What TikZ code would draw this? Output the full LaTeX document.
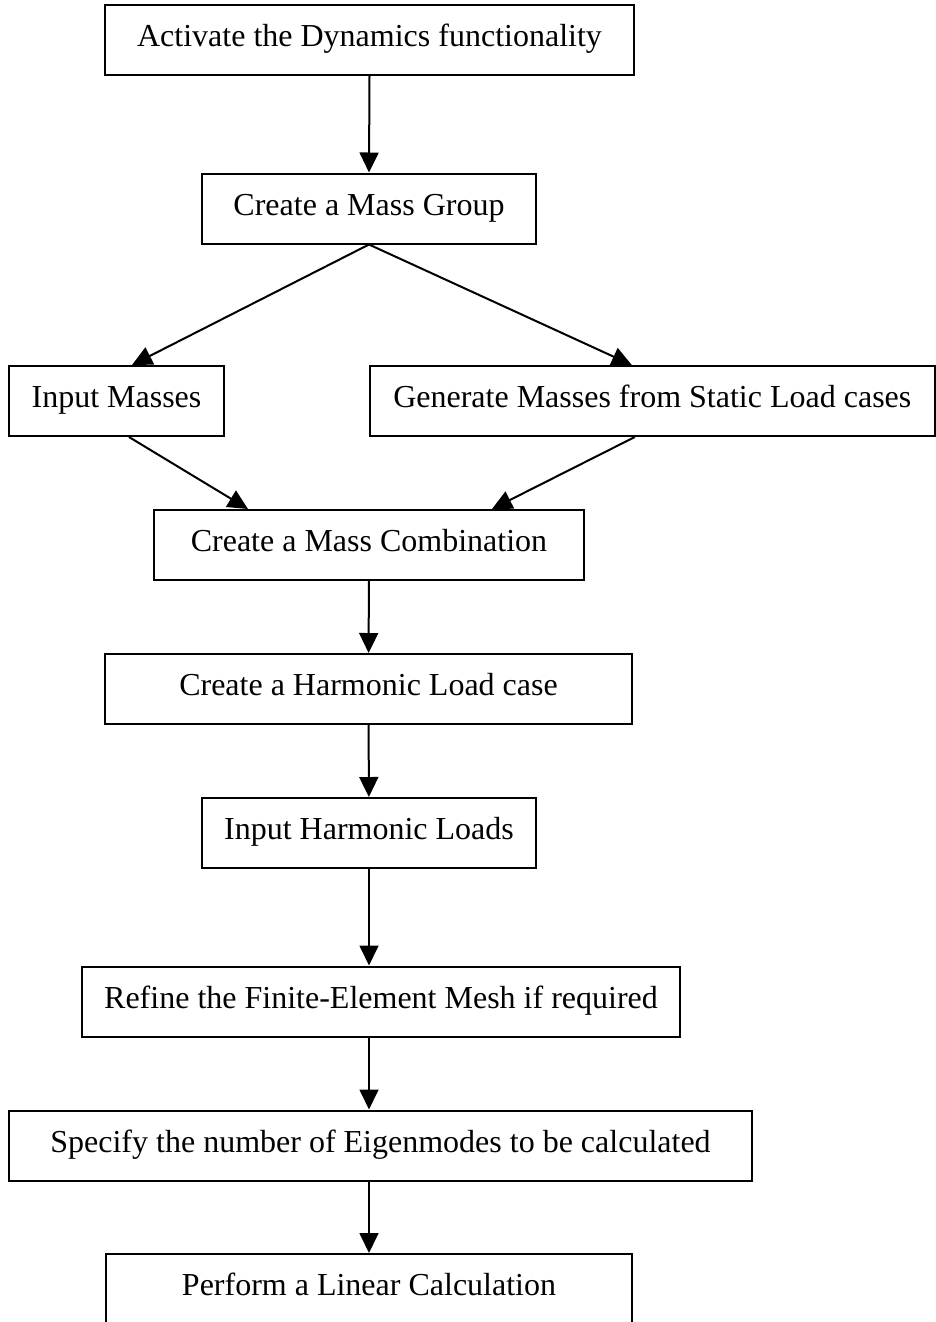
\documentclass[tikz,border=0pt]{standalone}
\usepackage{fontspec}
\setmainfont{Liberation Serif}
\usetikzlibrary{arrows.meta,calc}

\begin{document}
\begin{tikzpicture}[x=0.375pt, y=-0.375pt,
        box/.style={draw, rectangle, line width=0.75pt, align=center, inner sep=0pt, minimum height=26.25pt, text height=8.2pt, text depth=3pt, font=\fontsize{12pt}{14pt}\selectfont},
        link/.style={line width=0.75pt, -{Triangle[length=7.5pt,width=7.1pt]}}]
        % Fluxo do calculo dinamico
        \useasboundingbox (0,0) rectangle (936,1322);
        \node[box, minimum width=198.4pt] (activate) at (369.5,40) {Activate the Dynamics functionality};
        \node[box, minimum width=125.25pt] (group) at (369,208.5) {Create a Mass Group};
        \node[box, minimum width=80.6pt] (masses) at (116.5,401) {Input Masses};
        \node[box, minimum width=211.9pt] (generate) at (652.3,401) {Generate Masses from Static Load cases};
        \node[box, minimum width=161.25pt] (combination) at (369,545) {Create a Mass Combination};
        \node[box, minimum width=197.6pt] (harmonic) at (368.5,689) {Create a Harmonic Load case};
        \node[box, minimum width=125.25pt] (loads) at (369,833) {Input Harmonic Loads};
        \node[box, minimum width=224.25pt] (refine) at (381,1001.5) {Refine the Finite-Element Mesh if required};
        \node[box, minimum width=278.6pt] (modes) at (380.5,1145.5) {Specify the number of Eigenmodes to be calculated};
        \node[box, minimum width=197.25pt] (linear) at (369,1289) {Perform a Linear Calculation};

        \draw[link] (activate.south) -- (group.north);
        \draw[link] (group.south) -- ($(masses.north)+(15.5,0)$);
        \draw[link] (group.south) -- ($(generate.north)+(-20.5,0)$);
        \draw[link] ($(masses.south)+(12.5,0)$) -- ($(combination.north)+(-121,0)$);
        \draw[link] ($(generate.south)+(-17.5,0)$) -- ($(combination.north)+(123,0)$);
        \draw[link] (combination) -- (harmonic);
        \draw[link] (harmonic) -- (loads);
        \draw[link] (loads.south) -- (loads.south |- refine.north);
        \draw[link] (loads.south |- refine.south) -- (loads.south |- modes.north);
        \draw[link] (linear.north |- modes.south) -- (linear.north);
    \end{tikzpicture}
\end{document}
